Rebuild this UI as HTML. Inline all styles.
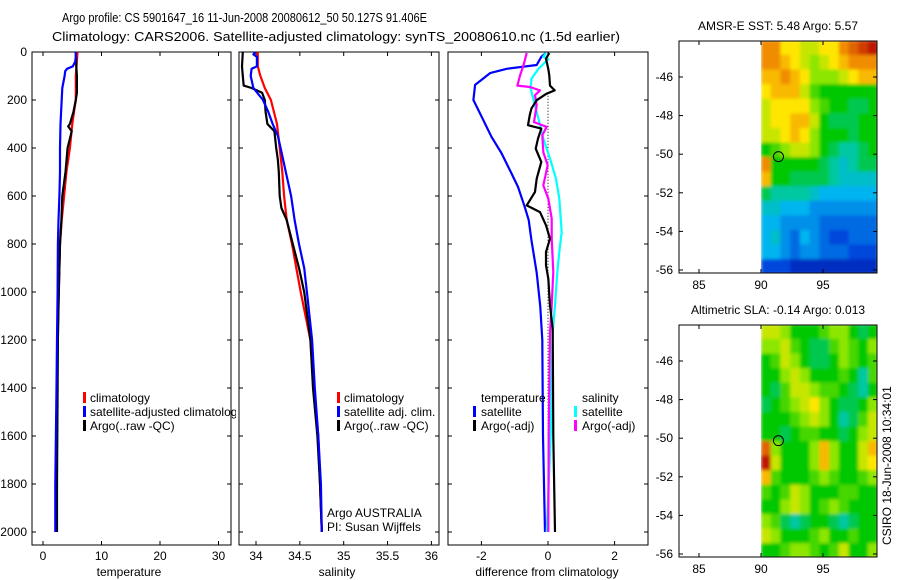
<!DOCTYPE html>
<html><head><meta charset="utf-8"><style>
html,body{margin:0;padding:0;background:#fff}
svg{display:block;font-family:"Liberation Sans",sans-serif}
</style></head><body>
<svg id="fig" width="900" height="580" viewBox="0 0 900 580">
<defs>
<filter id="smooth" x="0" y="0" width="1" height="1"><feGaussianBlur stdDeviation="1.6" edgeMode="duplicate"/></filter>
<clipPath id="clip1"><rect x="760" y="41" width="117" height="232"/></clipPath>
<clipPath id="clip2"><rect x="760" y="325" width="117" height="232"/></clipPath>
</defs>
<text x="62" y="22" font-size="13" textLength="365" lengthAdjust="spacingAndGlyphs">Argo profile: CS 5901647_16 11-Jun-2008 20080612_50 50.127S 91.406E</text>
<text x="52" y="41" font-size="13" textLength="568" lengthAdjust="spacingAndGlyphs">Climatology: CARS2006. Satellite-adjusted climatology: synTS_20080610.nc (1.5d earlier)</text>
<g id="g"></g>
</svg>
<script>
// ---------- data ----------
const tRedD=[0,100,200,250,300,400,500,600,700,800,900,1000,1200,1400,1600,1800,2000];
const tRedV=[5.9,5.6,5.6,5.3,5.0,4.6,4.0,3.6,3.2,2.9,2.8,2.7,2.5,2.4,2.35,2.3,2.2];
const tBlueD=[0,20,40,60,70,80,100,150,200,250,300,400,500,600,700,800,1000,1200,1400,1600,1800,2000];
const tBlueV=[5.6,5.6,5.5,5.1,4.1,3.8,3.7,3.3,3.2,3.1,3.0,2.9,2.9,2.8,2.65,2.55,2.5,2.4,2.3,2.2,2.1,2.1];
const tArgoD=[0,60,100,170,200,250,300,310,330,400,500,600,700,800,900,1000,1200,1400,1600,1800,2000];
const tArgoV=[5.6,5.7,5.8,5.8,5.6,5.2,4.6,4.3,4.9,4.2,3.85,3.3,3.15,2.9,2.8,2.7,2.55,2.5,2.45,2.4,2.4];
const sRedD=[0,60,100,150,200,300,400,500,600,700,800,900,1000,1200,1400,1600,1800,2000];
const sRedV=[34.02,34.02,34.05,34.10,34.17,34.24,34.27,34.30,34.32,34.35,34.41,34.46,34.51,34.62,34.66,34.71,34.73,34.75];
const sBlueD=[0,10,20,40,60,70,100,150,200,250,300,350,400,500,600,700,800,900,1000,1200,1400,1600,1800,2000];
const sBlueV=[33.99,33.97,34.01,34.01,34.01,33.95,33.94,33.97,34.08,34.14,34.19,34.25,34.28,34.34,34.40,34.44,34.49,34.55,34.58,34.64,34.67,34.71,34.74,34.75];
const sArgoD=[0,60,100,140,150,170,200,250,300,330,400,450,500,600,650,700,800,900,1000,1200,1400,1600,1800,2000];
const sArgoV=[33.85,33.84,33.85,33.86,33.95,34.07,34.10,34.11,34.13,34.21,34.23,34.25,34.26,34.27,34.29,34.35,34.42,34.49,34.55,34.62,34.65,34.70,34.73,34.75];
const dTSatD=[4,20,54,70,88,137,200,270,353,421,505,562,645,700,783,920,1062,1200,1600,2000];
const dTSatV=[-0.06,-0.2,-0.34,-1.24,-1.74,-2.19,-2.24,-1.99,-1.7,-1.4,-1.1,-0.9,-0.7,-0.58,-0.5,-0.34,-0.23,-0.17,-0.15,-0.09];
const dTArgoD=[4,28,71,98,140,160,174,201,236,264,305,319,361,403,458,528,583,639,667,722,778,833,889,944,1056,1153,1600,2000];
const dTArgoV=[0.04,-0.06,0.01,0.04,0.06,0.2,-0.05,-0.34,-0.5,-0.55,-0.6,-0.2,-0.3,-0.37,-0.2,-0.34,-0.39,-0.64,-0.24,-0.06,0.06,-0.06,-0.06,0.01,0.06,0.14,0.16,0.21];
const dSArgoD=[4,57,98,140,146,160,180,222,292,312,347,417,472,556,611,694,778,917,1056,1167,1600,2000];
const dSArgoV=[-0.64,-0.74,-0.84,-0.92,-0.54,-0.24,-0.39,-0.34,-0.42,-0.04,-0.17,-0.14,-0.01,-0.14,0.01,0.11,0.11,0.16,0.11,0.06,0.02,0.01];
const dSSatD=[4,20,30,71,112,153,222,292,361,444,528,611,694,750,833,917,1056,1167,1600,2000];
const dSSatV=[-0.06,-0.14,0.01,-0.29,-0.5,-0.52,-0.39,-0.26,-0.14,0.06,0.24,0.34,0.38,0.41,0.34,0.28,0.21,0.14,0.08,-0.04];
const depthTicks=[0,200,400,600,800,1000,1200,1400,1600,1800,2000];
const tempTicks=[0,10,20,30];
const salTicks=[34,34.5,35,35.5,36];
const diffTicks=[-2,0,2];
const lonTicks=[85,90,95];
const latTicks=[-46,-48,-50,-52,-54,-56];
const sstGrid=[
[8,8,7,7,6.5,6.5,7,7,8,8.5,9,9.5],
[8,8,7.5,7,6.5,6,6.5,7,7.5,8,8,8],
[7.5,7.5,8,7.5,7,6,6,6,6.5,7,7.5,7.5],
[7,7.5,7.5,7.5,6.5,5.5,5,5,5,5,5,5],
[6.5,7,7,7,7,6,5.5,5,5,4.5,4.5,5],
[6.5,7,7,7.5,7.5,6.5,5,4.5,4.5,4.5,5,5],
[6.5,6.5,7,7.5,7,6,5,5,5,4.5,5,5],
[5,5.5,6,6.5,6.5,6,5,4.5,4,4,4.5,5],
[8,5,5,5,5,5,4.5,4,3.5,4,4.5,4.5],
[7.5,5,5,4.5,4.5,4.5,4.5,4,3.5,3.5,3.5,3.5],
[4.5,4,4,4,4,3.5,3,3,3,3,3,3],
[3.5,3.5,3,3,3,2.5,2.5,2.5,2.5,2.5,2.5,2.5],
[3,3,2.5,2.5,2.5,2.5,2,2,2,2,2,2],
[3,3.5,2.5,2,3,2.5,2,1.5,1.5,2,2,2],
[3,3,2.5,2,2.5,2.5,2,2,2,1.5,1.5,1.5],
[1.5,1.5,1.5,1,1,1,1,1,1,1,1,1]];
const slaGrid=[
[6.5,6.5,6,5,5,5,5.5,6,6,5,4.5,5],
[6,6,6.5,5.5,5,4.5,4.5,5.5,6,5.5,5,6],
[5,5.5,6.5,6,5,4.5,4.5,5,6,5.5,5,5.5],
[5,5,6,6.5,6,5,5,5,5.5,5,4,5.5],
[5,4.5,5.5,6.5,6.5,6,5.5,5.5,5,4.5,4,5],
[4.5,5,5.5,6,6.5,7,6,5,4.5,4.5,5,6],
[5,5,5,5.5,6,6.5,6,5,4,4.5,5.5,6.5],
[5,5,4.5,5,5.5,5.5,5,5,4.5,5,6,6.5],
[8.5,6,5,5,5,6,7.5,6,5,5,6.5,7.5],
[9.5,6.5,5,5,5,6,7.5,6,5,5,6.5,7],
[7.5,5.5,5,5,5,5.5,6,5.5,5,5,5.5,6],
[5.5,5,5.5,6.5,6,5,5,5,5.5,5.5,5,5],
[5,5,6,6.5,6,5,5.5,6,5.5,5,5,5],
[6,5.5,4.5,4,4.5,5,5,4.5,4,4.5,5,5],
[6.5,6,5,5,5,5.5,6,5,5,5.5,5,5],
[5,5,5.5,6,6,5.5,5,5.5,6.5,5,5,6]];
const argoLon=91.406, argoLat=-50.127;

// ---------- drawing ----------
const NS='http://www.w3.org/2000/svg';
const G=document.getElementById('g');
function mk(tag,attrs,parent){const e=document.createElementNS(NS,tag);for(const k in attrs)e.setAttribute(k,attrs[k]);(parent||G).appendChild(e);return e;}
const Y0=52,KY=0.24,TOP=52,BOT=545;
const yD=d=>Y0+d*KY;
const panels=[
 {name:'temperature',x0:32,x1:231,v0:43,k:5.85,ticks:tempTicks,label:'temperature',lx:129},
 {name:'salinity',x0:239,x1:439,v0:256,k:87.7,base:34,ticks:salTicks,label:'salinity',lx:337},
 {name:'difference',x0:448,x1:648,v0:548,k:33.3,ticks:diffTicks,label:'difference from climatology',lx:547}];
panels.forEach(p=>{p.x=v=>p.v0+(v-(p.base||0))*p.k;});
function drawPanelFrame(p,i){
 const r=mk('rect',{x:p.x0,y:TOP,width:p.x1-p.x0,height:BOT-TOP,fill:'#fff',stroke:'#000','stroke-width':1});
 
 
 depthTicks.forEach(d=>{
  mk('line',{x1:p.x0,x2:p.x0+4,y1:yD(d),y2:yD(d),stroke:'#000'});
  mk('line',{x1:p.x1-4,x2:p.x1,y1:yD(d),y2:yD(d),stroke:'#000'});
  if(i===0){const t=mk('text',{x:p.x0-5,y:yD(d)+4,'font-size':12,'text-anchor':'end'});t.textContent=d;
   
   }
 });
 p.ticks.forEach(v=>{const x=p.x(v);
  mk('line',{x1:x,x2:x,y1:BOT,y2:BOT-4,stroke:'#000'});
  mk('line',{x1:x,x2:x,y1:TOP,y2:TOP+4,stroke:'#000'});
  const t=mk('text',{x:x,y:BOT+15,'font-size':12,'text-anchor':'middle'});t.textContent=v;
  
  
 });
 const l=mk('text',{x:p.lx,y:576,'font-size':12,'text-anchor':'middle'});l.textContent=p.label;
 
 
}
function line(p,D,V,color,name,w){
 const pts=D.map((d,i)=>p.x(V[i]).toFixed(1)+','+yD(d).toFixed(1)).join(' ');
 const e=mk('polyline',{points:pts,fill:'none',stroke:color,'stroke-width':w||2.2,'stroke-linejoin':'round'});
 
 
}
function txt(x,y,s,name,opt){const t=mk('text',Object.assign({x:x,y:y,'font-size':12},opt||{}));t.textContent=s;
 
 return t;}
function bar(x,y,c){mk('rect',{x:x,y:y-10,width:3,height:11,fill:c});}

drawPanelFrame(panels[0],0);
line(panels[0],tRedD,tRedV,'#f00','temp-climatology-line');
line(panels[0],tArgoD,tArgoV,'#000','temp-argo-line');
line(panels[0],tBlueD,tBlueV,'#00f','temp-satellite-line');
bar(83,402,'#f00');txt(90,402,'climatology','legend-climatology');
bar(83,416,'#00f');txt(90,416,'satellite-adjusted climatology','legend-satellite-adjusted');
bar(83,430,'#000');txt(90,430,'Argo(..raw -QC)','legend-argo');
mk('rect',{x:236,y:380,width:2.5,height:60,fill:'#fff'});
drawPanelFrame(panels[1],1);
line(panels[1],sRedD,sRedV,'#f00','sal-climatology-line');
line(panels[1],sArgoD,sArgoV,'#000','sal-argo-line');
line(panels[1],sBlueD,sBlueV,'#00f','sal-satellite-line');
bar(337,402,'#f00');txt(344,402,'climatology','legend-climatology-2');
bar(337,416,'#00f');txt(344,416,'satellite adj. clim.','legend-satellite-2');
bar(337,430,'#000');txt(344,430,'Argo(..raw -QC)','legend-argo-2');
txt(327,517,'Argo AUSTRALIA','credit-argo-australia');
txt(327,531,'PI: Susan Wijffels','credit-pi');
drawPanelFrame(panels[2],2);
mk('line',{x1:panels[2].x(0),x2:panels[2].x(0),y1:yD(170),y2:yD(2000),stroke:'#000','stroke-dasharray':'1,2'});
line(panels[2],dTSatD,dTSatV,'#00f','diff-temp-satellite-line');
line(panels[2],dSSatD,dSSatV,'#0ff','diff-sal-satellite-line');
line(panels[2],dSArgoD,dSArgoV,'#f0f','diff-sal-argo-line');
line(panels[2],dTArgoD,dTArgoV,'#000','diff-temp-argo-line');
txt(481,402,'temperature','legend-temperature-header');
bar(473,416,'#00f');txt(481,416,'satellite','legend-temp-satellite');
bar(473,430,'#000');txt(481,430,'Argo(-adj)','legend-temp-argo');
txt(582,402,'salinity','legend-salinity-header');
bar(574,416,'#0ff');txt(582,416,'satellite','legend-sal-satellite');
bar(574,430,'#f0f');txt(582,430,'Argo(-adj)','legend-sal-argo');

const stops=[[0,[0,0,140]],[1.5,[0,70,220]],[3,[0,180,240]],[4,[0,200,160]],[5,[0,200,0]],[6,[140,230,0]],[7,[255,230,0]],[8,[240,140,0]],[9.5,[190,20,0]]];
function cmap(v){for(let i=0;i<stops.length-1;i++){const a=stops[i],b=stops[i+1];if(v<=b[0]){const t=Math.max(0,(v-a[0])/(b[0]-a[0]));
 return 'rgb('+a[1].map((c,j)=>Math.round(c+(b[1][j]-c)*t)).join(',')+')';}}return 'rgb(190,20,0)';}
function drawMap(top,bottom,grid,title,name,clipId){
 const L=679,R=877, lonX=lon=>699+(lon-85)*12.4;
 const lat46=top+36, latY=lat=>lat46+(-46-lat)*19.3;
 const f=mk('rect',{x:L,y:top,width:R-L,height:bottom-top,fill:'#fff',stroke:'#000'});
 
 
 const clipG=mk('g',{'clip-path':'url(#'+clipId+')'});
 const cells=mk('g',{filter:'url(#smooth)'},clipG);
 const lat0=-44.1, dlat=0.756, lon0=90, dlon=0.784;
 grid.forEach((row,ri)=>row.forEach((v,ci)=>{
  const x=lonX(lon0+ci*dlon), y=latY(lat0-ri*dlat);
  const c=mk('rect',{x:x.toFixed(1),y:y.toFixed(1),width:(dlon*12.4+0.6).toFixed(1),height:(dlat*19.3+0.6).toFixed(1),fill:cmap(v)},cells);
  
  
 }));
 mk('rect',{x:L,y:top,width:R-L,height:bottom-top,fill:'none',stroke:'#000'});
 latTicks.forEach(lat=>{const y=latY(lat);
  mk('line',{x1:L,x2:L+4,y1:y,y2:y,stroke:'#000'});mk('line',{x1:R-4,x2:R,y1:y,y2:y,stroke:'#000'});
  txt(673,y+4,lat,name+'-lat-label',{'text-anchor':'end'});});
 lonTicks.forEach(lon=>{const x=lonX(lon);
  mk('line',{x1:x,x2:x,y1:bottom,y2:bottom-4,stroke:'#000'});mk('line',{x1:x,x2:x,y1:top,y2:top+4,stroke:'#000'});
  txt(x,bottom+16,lon,name+'-lon-label',{'text-anchor':'middle'});});
 const c=mk('circle',{cx:lonX(argoLon),cy:latY(argoLat),r:5,fill:'none',stroke:'#000'});
 
 
 txt(778,top-11,title,name+'-title',{'text-anchor':'middle'});
}
drawMap(41,273,sstGrid,'AMSR-E SST: 5.48 Argo: 5.57','sst-map','clip1');
drawMap(325,557,slaGrid,'Altimetric SLA: -0.14 Argo: 0.013','sla-map','clip2');
txt(0,0,'CSIRO 18-Jun-2008 10:34:01','timestamp',{transform:'translate(891,545) rotate(-90)'});
</script>
</body></html>
